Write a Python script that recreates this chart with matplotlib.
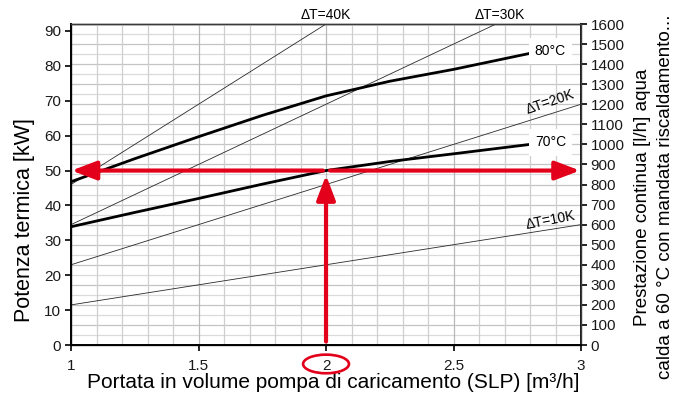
import matplotlib
matplotlib.use("Agg")
import matplotlib.pyplot as plt
from matplotlib.patches import Ellipse
from matplotlib.ticker import MultipleLocator
import matplotlib.transforms as mtransforms

plt.rcParams['font.family'] = ['Liberation Sans', 'DejaVu Sans']

# Flow rate of the loading pump (m3/h)
flow = [1.0, 1.25, 1.5, 1.75, 2.0, 2.25, 2.5, 2.8]
# Thermal power curves for flow temperature 80 °C and 70 °C (kW)
power_80 = [46.8, 53.4, 59.7, 65.8, 71.4, 75.6, 79.0, 83.6]
power_70 = [33.9, 38.0, 42.0, 46.1, 50.0, 52.6, 54.8, 57.5]

# Constant temperature-difference lines: power per m3/h of flow (kW)
dt_flow = [1.0, 3.0]
dt_labels = ['ΔT=10K', 'ΔT=20K', 'ΔT=30K', 'ΔT=40K']
dt_power_per_flow = [11.5, 23.0, 34.5, 46.0]

# Operating point highlighted in red
op_flow = 2.0
op_power = 50.0

# Axis ranges
x_range = (1.0, 3.0)
kw_range = (0.0, 92.0)
lh_range = (0.0, 1600.0)
x_ticks = [1, 1.5, 2, 2.5, 3]
x_ticklabels = ['1', '1.5', '2', '2.5', '3']

RED = '#e2001a'

fig = plt.figure(figsize=(6.79, 3.99), dpi=100)
ax = fig.add_axes([0.1046, 0.1353, 0.7511, 0.8045])
ax2 = ax.twinx()
ax.set_zorder(ax2.get_zorder() + 1)
ax.patch.set_visible(False)

ax.set_xlim(*x_range)
ax.set_ylim(*kw_range)
ax2.set_ylim(*lh_range)

# grid
ax2.yaxis.set_major_locator(MultipleLocator(100))
ax2.yaxis.set_minor_locator(MultipleLocator(50))
ax2.grid(True, which='major', axis='y', color='#c4c4c4', lw=0.9)
ax2.grid(True, which='minor', axis='y', color='#dadada', lw=0.9)
ax.xaxis.set_minor_locator(MultipleLocator(0.1))
ax.set_xticks(x_ticks)
ax.set_xticklabels(x_ticklabels)
ax.grid(True, which='major', axis='x', color='#b8b8b8', lw=0.9)
ax.grid(True, which='minor', axis='x', color='#cfcfcf', lw=0.9)
ax.yaxis.set_major_locator(MultipleLocator(10))

# ΔT lines
for k in dt_power_per_flow:
    ax.plot(dt_flow, [k * f for f in dt_flow], color='#2a2a2a', lw=0.6, zorder=2)

# Power curves
ax.plot(flow, power_80, color='black', lw=2.0, zorder=3, solid_capstyle='butt')
ax.plot(flow, power_70, color='black', lw=2.0, zorder=3, solid_capstyle='butt')

lab_kw = dict(fontsize=10, ha='center', va='center', zorder=4,
              bbox=dict(boxstyle='square,pad=0.45', fc='white', ec='none'))
ax.text(2.88, power_80[-1] + 0.6, '80°C', **lab_kw)
ax.text(2.88, power_70[-1] + 0.6, '70°C', **lab_kw)

# ΔT labels
dt_kw = dict(fontsize=10, ha='center')
ax.text(2.0, 92.5, dt_labels[3], va='bottom', clip_on=False, **dt_kw)
ax.text(2.68, 92.5, dt_labels[2], va='bottom', clip_on=False, **dt_kw)
ax.text(2.88, 69.6, dt_labels[1], va='center', rotation=19, **dt_kw)
ax.text(2.88, 35.8, dt_labels[0], va='center', rotation=11, **dt_kw)

# Red arrows marking the operating point
arr = dict(arrowstyle='-|>,head_length=1.0,head_width=0.38', lw=3.0, color=RED,
           shrinkA=0, shrinkB=0, mutation_scale=15)
ax.annotate('', xy=(x_range[0] + 0.002, op_power), xytext=(op_flow - 0.012, op_power),
            arrowprops=arr, zorder=5, annotation_clip=False)
ax.annotate('', xy=(x_range[1] - 0.004, op_power), xytext=(op_flow + 0.016, op_power),
            arrowprops=arr, zorder=5, annotation_clip=False)
ax.annotate('', xy=(op_flow, op_power - 1.3), xytext=(op_flow, 1.0),
            arrowprops=arr, zorder=5, annotation_clip=False)

# Highlight of the flow tick label
trans = mtransforms.blended_transform_factory(ax.transData, ax.transAxes)
ax.add_patch(Ellipse((op_flow, -0.059), 0.18, 0.058, transform=trans, fill=False,
                     ec=RED, lw=1.9, clip_on=False, zorder=6))

# spines & ticks
for a in (ax, ax2):
    for s in a.spines.values():
        s.set_color('#3a3a3a')
        s.set_linewidth(1.0)
ax.spines['left'].set_color('black')
ax.spines['left'].set_linewidth(1.4)
ax.spines['bottom'].set_color('black')
ax.spines['bottom'].set_linewidth(1.4)
ax2.spines['right'].set_color('black')
ax2.spines['right'].set_linewidth(1.4)

ax.tick_params(axis='both', which='major', labelsize=11, length=4, width=1.2,
               colors='black', labelcolor='#1a1a1a', pad=3)
ax.tick_params(axis='x', which='minor', length=0)
ax.tick_params(axis='x', which='major', pad=6)
ax2.tick_params(axis='y', which='major', labelsize=11, length=4, width=1.2,
                colors='black', labelcolor='#1a1a1a', pad=3)
ax2.tick_params(axis='y', which='minor', length=0)

ax.set_xlabel('Portata in volume pompa di caricamento (SLP) [m³/h]', fontsize=15,
              va='center')
ax.xaxis.set_label_coords(0.514, -0.118)
ax.set_ylabel('Potenza termica [kW]', fontsize=15.5, va='center')
ax.yaxis.set_label_coords(-0.092, 0.39)
ax2.set_ylabel('Prestazione continua [l/h] aqua\ncalda a 60 °C con mandata riscaldamento...',
               fontsize=13.5, linespacing=1.5, va='center', rotation=90)
ax2.yaxis.set_label_coords(1.143, 0.461)

fig.savefig('out.png', dpi=100)
